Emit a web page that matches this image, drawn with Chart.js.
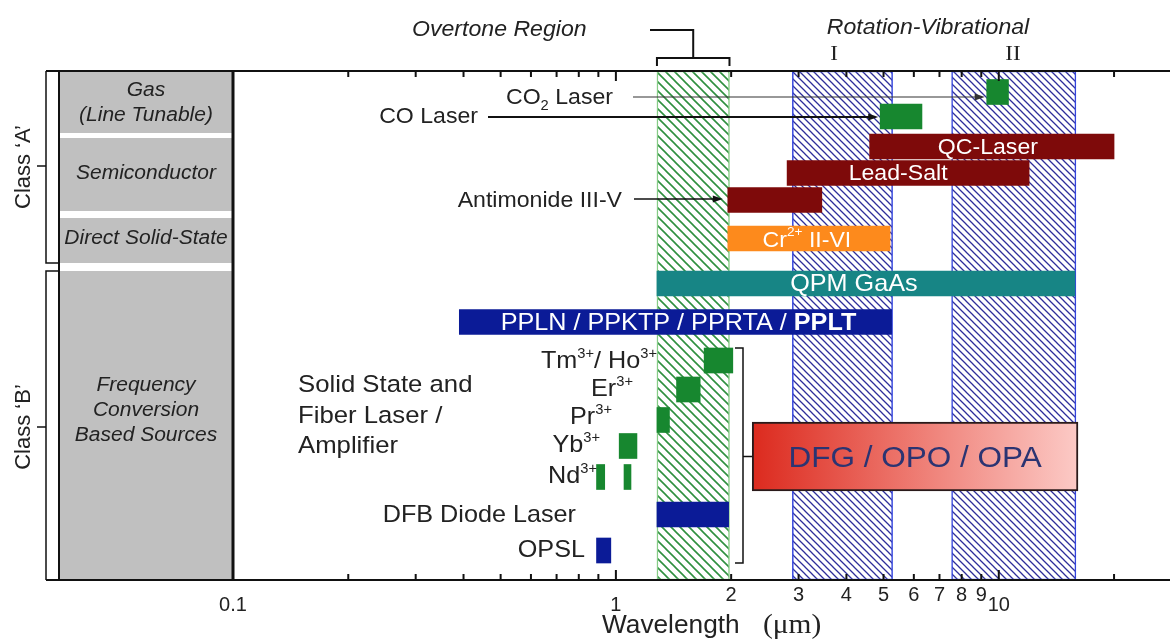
<!DOCTYPE html>
<html><head><meta charset="utf-8">
<script src="https://cdn.jsdelivr.net/npm/chart.js@4/dist/chart.umd.min.js"></script>
<style>html,body{margin:0;padding:0;background:#fff;}canvas{display:block;}</style>
</head><body>
<canvas id="c" width="1170" height="641"></canvas>
<script>
// ---------------- DATA ----------------
const sourceNames = ['CO2 Laser','CO Laser','QC-Laser','Lead-Salt','Antimonide III-V','Cr2+ II-VI','QPM GaAs',
  'PPLN / PPKTP / PPRTA / PPLT','Tm3+/ Ho3+','Er3+','Pr3+','Yb3+','Nd3+ (0.9)','Nd3+ (1.06)','DFB Diode Laser','OPSL'];
const sourceStart = [9.3, 4.9, 4.6, 2.8, 1.96, 1.96, 1.28, 0.39, 1.70, 1.44, 1.28, 1.02, 0.89, 1.05, 1.28, 0.89];
const sourceEnd   = [10.6, 6.3, 20, 12, 3.45, 5.2, 15.8, 5.25, 2.02, 1.66, 1.38, 1.135, 0.935, 1.095, 1.97, 0.97];
const regionNames = ['Overtone Region','Rotation-Vibrational I','Rotation-Vibrational II'];
const regionStart = [1.28, 2.89, 7.53];
const regionEnd   = [1.98, 5.28, 15.9];
const conversionName = 'DFG / OPO / OPA';
const conversionRange = [2.27, 16.1];
const tickValues = [0.1,0.2,0.3,0.4,0.5,0.6,0.7,0.8,0.9,1,2,3,4,5,6,7,8,9,10,20];
const tickLabels = ['0.1','','','','','','','','','1','2','3','4','5','6','7','8','9','10',''];
const xMin = 0.1, xMax = 28;

// ---------------- LAYOUT / STYLE ----------------
const rowPos = [21, 45.5, 75.5, 102, 129, 167.5, 212.5, 251, 289.5, 318.5, 349, 375, 406, 406, 443.5, 479.5];
const conversionRow = 385.5;
const GRN = '#17872f', RED = '#7e0a0a', ORG = '#fd8a1c', TEAL = '#178585', BLU = '#0b1b97';
const sourceColors = [GRN,GRN,RED,RED,RED,ORG,TEAL,BLU,GRN,GRN,GRN,GRN,GRN,GRN,BLU,BLU];
const lowLabels = ['0.1','1','10'];
const SANS = '"Liberation Sans", Arial, Helvetica, sans-serif';
const SERIF = '"Liberation Serif", "Times New Roman", serif';
const SX = 1.05;
const f = (s, st='', w='') => `${st} ${w} ${s}px ${SANS}`;

function hatch(color, sp, lw) {
  const c = document.createElement('canvas'); c.width = sp; c.height = sp;
  const g = c.getContext('2d');
  g.fillStyle = '#fff'; g.fillRect(0, 0, sp, sp);
  g.strokeStyle = color; g.lineWidth = lw; g.beginPath();
  for (let k = -1; k <= 1; k++) { g.moveTo(-1, -1 + k*sp); g.lineTo(sp+1, sp+1 + k*sp); }
  g.stroke();
  return g.createPattern(c, 'repeat');
}
const greenHatch = hatch('#2f9040', 9, 1.6);
const blueHatch = hatch('#2e2e9a', 7, 1.3);

function rich(ctx, segs, x, y, align, color, baseline) {
  ctx.save();
  ctx.fillStyle = color; ctx.textBaseline = baseline || 'alphabetic'; ctx.textAlign = 'left';
  let w = 0;
  segs.forEach(s => { ctx.font = s.font; s.w = ctx.measureText(s.t).width; w += s.w; });
  const start = align === 'center' ? x - w*SX/2 : align === 'right' ? x - w*SX : x;
  ctx.translate(start, y); ctx.scale(SX, 1);
  let cx = 0;
  segs.forEach(s => { ctx.font = s.font; ctx.fillText(s.t, cx, s.dy || 0); cx += s.w; });
  ctx.restore();
}
function txt(ctx, t, font, x, y, align, color, baseline) { rich(ctx, [{t, font}], x, y, align, color || '#222', baseline); }
function line(ctx, pts, lw, color) {
  ctx.save(); ctx.strokeStyle = color || '#111'; ctx.lineWidth = lw; ctx.beginPath();
  pts.forEach((p, i) => i ? ctx.lineTo(p[0], p[1]) : ctx.moveTo(p[0], p[1])); ctx.stroke(); ctx.restore();
}
function arrow(ctx, x0, y, x1, lw, color) {
  line(ctx, [[x0, y], [x1 - 6, y]], lw, color);
  ctx.save(); ctx.fillStyle = color; ctx.beginPath();
  ctx.moveTo(x1, y); ctx.lineTo(x1 - 10, y - 3.5); ctx.lineTo(x1 - 10, y + 3.5); ctx.closePath(); ctx.fill(); ctx.restore();
}

const deco = {
  id: 'deco',
  afterDatasetsDraw(chart) {
    const { ctx, chartArea: a, scales: { x } } = chart;
    const px = v => x.getPixelForValue(v);
    const T = a.top, B = a.bottom, L = a.left;
    // left panel
    ctx.save();
    ctx.fillStyle = '#c0c0c0'; ctx.fillRect(59, T, L - 59, B - T);
    ctx.fillStyle = '#fff';
    [[133, 5], [211, 7], [263, 8]].forEach(([yy, h]) => ctx.fillRect(59, yy, L - 59, h));
    ctx.restore();
    line(ctx, [[59, T], [59, B]], 2);
    line(ctx, [[L, T], [L, B]], 3);
    line(ctx, [[46, T], [46, 263], [59, 263]], 1.5);
    line(ctx, [[59, 271], [46, 271], [46, B]], 1.5);
    line(ctx, [[37, 166], [46, 166]], 1.5);
    line(ctx, [[37, 427], [46, 427]], 1.5);
    [['Class \u2018A\u2019', 167], ['Class \u2018B\u2019', 427]].forEach(([t, yy]) => {
      ctx.save(); ctx.translate(24, yy); ctx.rotate(-Math.PI/2);
      ctx.font = f(22); ctx.fillStyle = '#222'; ctx.textAlign = 'center'; ctx.textBaseline = 'middle';
      ctx.fillText(t, 0, 0); ctx.restore();
    });
    const pc = (59 + L) / 2;
    [['Gas', 90], ['(Line Tunable)', 115], ['Semiconductor', 173], ['Direct Solid-State', 238],
     ['Frequency', 385], ['Conversion', 410], ['Based Sources', 435]].forEach(([t, yy]) =>
      txt(ctx, t, f(20, 'italic'), pc, yy, 'center', '#222', 'middle'));
    // axes lines
    line(ctx, [[46, T], [1170, T]], 2);
    line(ctx, [[46, B], [1170, B]], 2);
    tickValues.forEach(v => {
      if (v <= xMin) return;
      const p = px(v), len = (v === 1 || v === 10) ? 10 : 6;
      line(ctx, [[p, B], [p, B - len]], 2);
      line(ctx, [[p, T], [p, T + len]], 2);
    });
    // axis title
    txt(ctx, 'Wavelength', f(25), 602, 633, 'left', '#222');
    rich(ctx, [{t: '(\u03bcm)', font: `28px ${SERIF}`}], 763, 633, 'left', '#222');
    // overtone bracket
    const o1 = px(regionStart[0]), o2 = px(regionEnd[0]), om = (o1 + o2) / 2;
    line(ctx, [[o1, 66], [o1, 58], [o2, 58], [o2, 66]], 2);
    line(ctx, [[om, 58], [om, 30], [650, 30]], 2);
    txt(ctx, 'Overtone Region', f(22, 'italic'), 412, 30, 'left', '#222', 'middle');
    txt(ctx, 'Rotation-Vibrational', f(22, 'italic'), 928, 28, 'center', '#222', 'middle');
    rich(ctx, [{t: 'I', font: `22px ${SERIF}`}], 834, 54, 'center', '#222', 'middle');
    rich(ctx, [{t: 'II', font: `22px ${SERIF}`}], 1013, 54, 'center', '#222', 'middle');
    // arrows + outside labels
    arrow(ctx, 633, 97, px(sourceStart[0]) - 2, 1.2, '#333');
    arrow(ctx, 488, 117, px(sourceStart[1]) - 2, 2, '#111');
    arrow(ctx, 634, 199, px(sourceStart[4]) - 5, 1.5, '#111');
    rich(ctx, [{t: 'CO', font: f(22)}, {t: '2', font: f(14), dy: 6}, {t: ' Laser', font: f(22)}], 613, 104, 'right', '#222');
    txt(ctx, 'CO Laser', f(22), 478, 123, 'right');
    txt(ctx, 'Antimonide III-V', f(22), 622, 207, 'right');
    // in-bar labels
    const meta = chart.getDatasetMeta(1);
    const ctr = i => { const el = meta.data[i]; return [(el.x + el.base) / 2, el.y]; };
    const W = '#fff';
    let c = ctr(2); txt(ctx, 'QC-Laser', f(22), c[0] - 4, c[1] + 1, 'center', W, 'middle');
    c = ctr(3); txt(ctx, 'Lead-Salt', f(22), c[0] - 10, c[1] + 1, 'center', W, 'middle');
    c = ctr(5); rich(ctx, [{t: 'Cr', font: f(22)}, {t: '2+', font: f(13), dy: -8}, {t: ' II-VI', font: f(22)}], c[0] - 2, c[1] + 2, 'center', W, 'middle');
    c = ctr(6); txt(ctx, 'QPM GaAs', f(24), c[0] - 12, c[1] + 1, 'center', W, 'middle');
    c = ctr(7); rich(ctx, [{t: 'PPLN / PPKTP / PPRTA / ', font: f(24)}, {t: 'PPLT', font: f(24, '', 'bold')}], c[0] + 3, c[1] + 1, 'center', W, 'middle');
    // solid state labels
    const sup = t => ({t, font: f(14), dy: -10});
    rich(ctx, [{t: 'Tm', font: f(24)}, sup('3+'), {t: '/ Ho', font: f(24)}, sup('3+')], 657, 368, 'right', '#222');
    rich(ctx, [{t: 'Er', font: f(24)}, sup('3+')], 633, 396, 'right', '#222');
    rich(ctx, [{t: 'Pr', font: f(24)}, sup('3+')], 612, 424, 'right', '#222');
    rich(ctx, [{t: 'Yb', font: f(24)}, sup('3+')], 600, 452, 'right', '#222');
    rich(ctx, [{t: 'Nd', font: f(24)}, sup('3+')], 597, 483, 'right', '#222');
    txt(ctx, 'DFB Diode Laser', f(24), 576, 522, 'right');
    txt(ctx, 'OPSL', f(24), 585, 557, 'right');
    ['Solid State and', 'Fiber Laser /', 'Amplifier'].forEach((t, i) => txt(ctx, t, f(24.5), 298, [392, 423, 453][i], 'left'));
    // bracket for solid-state group
    const t1 = meta.data[8], t2 = meta.data[15];
    const bx = 743, yTop = t1.y - 12.5, yBot = t2.y + 12.5, dm = chart.getDatasetMeta(2).data[0];
    line(ctx, [[735, yTop], [bx, yTop], [bx, yBot], [735, yBot]], 1.5);
    line(ctx, [[bx, dm.y], [Math.min(dm.x, dm.base), dm.y]], 1.5);
    // DFG label
    txt(ctx, conversionName, f(30), (dm.x + dm.base) / 2, dm.y + 2, 'center', '#2b3472', 'middle');
  }
};

const ctx = document.getElementById('c').getContext('2d');
new Chart(ctx, {
  type: 'bar',
  data: {
    datasets: [
      { label: 'regions', order: 10, barThickness: 509, grouped: false,
        data: regionNames.map((n, i) => ({ x: [regionStart[i], regionEnd[i]], y: 254.5 })),
        backgroundColor: [greenHatch, blueHatch, blueHatch],
        borderColor: ['#86cc86', '#3344dd', '#3344dd'], borderWidth: 1.5, borderSkipped: false },
      { label: 'sources', order: 2, barThickness: 25, grouped: false,
        data: sourceNames.map((n, i) => ({ x: [sourceStart[i], sourceEnd[i]], y: rowPos[i] })),
        backgroundColor: sourceColors, borderWidth: 0 },
      { label: conversionName, order: 1, barThickness: 69, grouped: false,
        data: [{ x: conversionRange, y: conversionRow }],
        backgroundColor: (c) => {
          const ch = c.chart; if (!ch.chartArea) return '#e03a30';
          const xs = ch.scales.x;
          const g = ch.ctx.createLinearGradient(xs.getPixelForValue(conversionRange[0]), 0, xs.getPixelForValue(conversionRange[1]), 0);
          g.addColorStop(0, '#dc2a1e'); g.addColorStop(0.5, '#ee7b72'); g.addColorStop(1, '#fccac6');
          return g;
        },
        borderColor: '#2a1a1a', borderWidth: 2, borderSkipped: false }
    ]
  },
  options: {
    indexAxis: 'y', responsive: false, animation: false,
    layout: { padding: { left: 233, top: 71, right: 0, bottom: 11 } },
    plugins: { legend: { display: false }, tooltip: { enabled: false } },
    scales: {
      x: {
        type: 'logarithmic', min: xMin, max: xMax, position: 'bottom',
        grid: { display: false, drawTicks: false }, border: { display: false },
        afterBuildTicks: (s) => { s.ticks = tickValues.map(v => ({ value: v })); },
        ticks: {
          autoSkip: false, maxRotation: 0, minRotation: 0, padding: 4, color: '#222',
          callback: (v) => { const i = tickValues.indexOf(v); return i >= 0 ? tickLabels[i] : ''; },
          font: (c) => {
            const i = c.tick ? tickValues.indexOf(c.tick.value) : -1;
            const low = i >= 0 && lowLabels.includes(tickLabels[i]);
            return { family: SANS, size: 20, lineHeight: low ? 2.1 : 1.15 };
          }
        }
      },
      y: { type: 'linear', min: 0, max: 509, reverse: true, display: false, offset: false }
    }
  },
  plugins: [deco]
});
</script>
</body></html>
